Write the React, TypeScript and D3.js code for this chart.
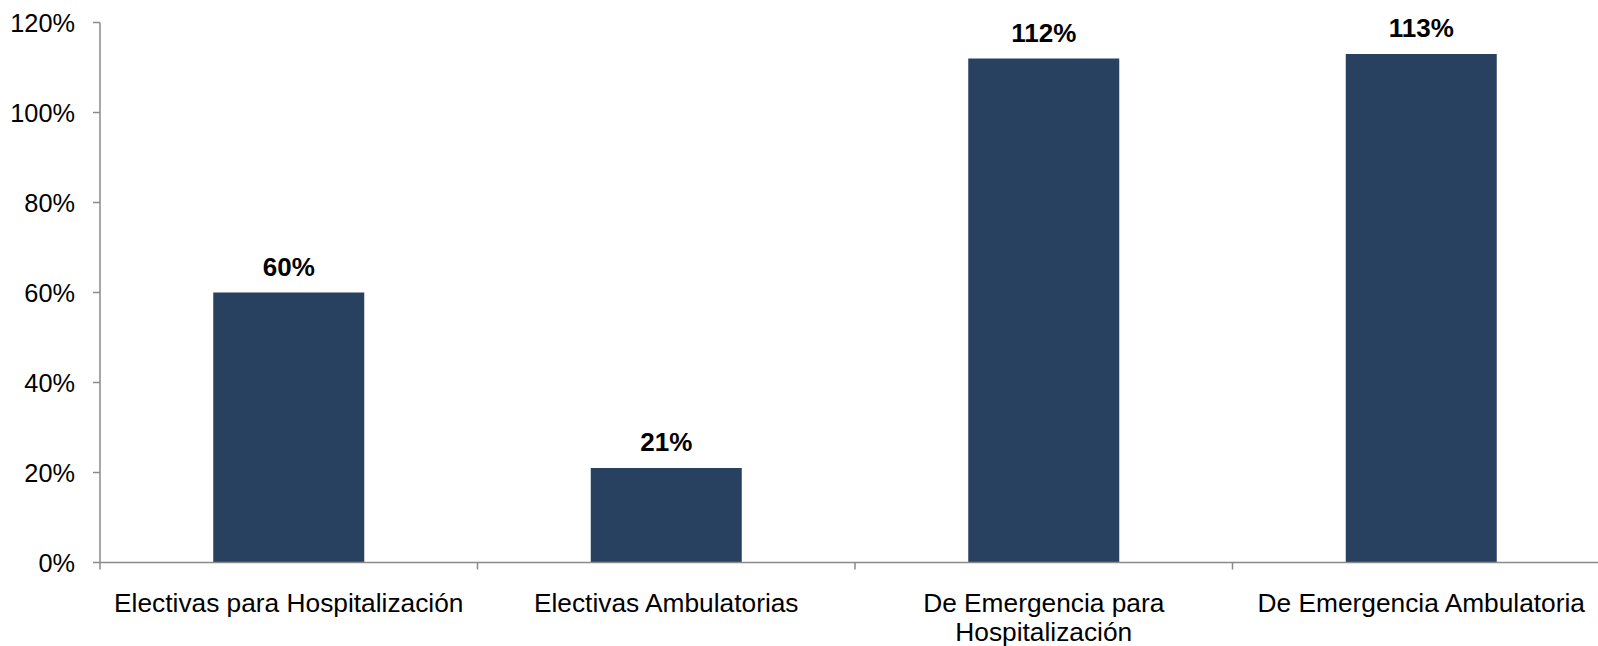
import React, { useEffect, useRef } from "react";
import * as d3 from "d3";

const categories: string[] = [
  "Electivas para Hospitalización",
  "Electivas Ambulatorias",
  "De Emergencia para Hospitalización",
  "De Emergencia Ambulatoria",
];
const values: number[] = [60, 21, 112, 113];
const yTicks: number[] = [0, 20, 40, 60, 80, 100, 120];

const W = 1598;
const H = 646;
const FONT = "'Liberation Sans', Arial, sans-serif";

export default function App() {
  const ref = useRef<SVGSVGElement>(null);

  useEffect(() => {
    const svg = d3.select(ref.current);
    svg.selectAll("*").remove();

    const left = 100;
    const step = 377.5;
    const x = d3
      .scaleBand<string>()
      .domain(categories)
      .range([left, left + step * categories.length])
      .paddingInner(0.6)
      .paddingOuter(0.3);
    const y = d3.scaleLinear().domain([0, 120]).range([562.5, 22.5]);

    const g = svg.append("g");

    // bars
    g.selectAll("rect.bar")
      .data(values)
      .enter()
      .append("rect")
      .attr("class", "bar")
      .attr("x", (_d, i) => x(categories[i]) as number)
      .attr("y", (d) => y(d))
      .attr("width", x.bandwidth())
      .attr("height", (d) => y(0) - y(d))
      .attr("fill", "#284161");

    // value labels
    g.selectAll("text.val")
      .data(values)
      .enter()
      .append("text")
      .attr("class", "val")
      .attr("x", (_d, i) => (x(categories[i]) as number) + x.bandwidth() / 2)
      .attr("y", (d) => y(d) - 17)
      .attr("text-anchor", "middle")
      .attr("font-family", FONT)
      .attr("font-weight", "bold")
      .attr("font-size", 26)
      .attr("fill", "#000")
      .text((d) => `${d}%`);

    const axisColor = "#8a8a8a";

    // y axis line
    g.append("line")
      .attr("x1", left)
      .attr("x2", left)
      .attr("y1", y(120))
      .attr("y2", y(0))
      .attr("stroke", axisColor)
      .attr("stroke-width", 1.5);

    // y ticks
    yTicks.forEach((t) => {
      g.append("line")
        .attr("x1", left - 7)
        .attr("x2", left)
        .attr("y1", y(t))
        .attr("y2", y(t))
        .attr("stroke", axisColor)
        .attr("stroke-width", 1.5);
      g.append("text")
        .attr("x", left - 25)
        .attr("y", y(t))
        .attr("dy", "0.36em")
        .attr("text-anchor", "end")
        .attr("font-family", FONT)
        .attr("font-size", 25.3)
        .attr("fill", "#000")
        .text(`${t}%`);
    });

    // x axis line
    g.append("line")
      .attr("x1", left)
      .attr("x2", left + step * categories.length)
      .attr("y1", y(0))
      .attr("y2", y(0))
      .attr("stroke", axisColor)
      .attr("stroke-width", 1.5);

    // x ticks at category boundaries
    for (let i = 0; i <= categories.length; i++) {
      const xx = left + step * i;
      g.append("line")
        .attr("x1", xx)
        .attr("x2", xx)
        .attr("y1", y(0))
        .attr("y2", y(0) + 7)
        .attr("stroke", axisColor)
        .attr("stroke-width", 1.5);
    }

    // category labels with wrapping
    const maxW = step - 10;
    categories.forEach((c) => {
      const cx = (x(c) as number) + x.bandwidth() / 2;
      const text = g
        .append("text")
        .attr("x", cx)
        .attr("y", 612)
        .attr("text-anchor", "middle")
        .attr("font-family", FONT)
        .attr("font-size", 26.3)
        .attr("fill", "#000");
      const words = c.split(" ");
      let line: string[] = [];
      let tspan = text.append("tspan").attr("x", cx).attr("dy", 0);
      words.forEach((w) => {
        line.push(w);
        tspan.text(line.join(" "));
        if ((tspan.node() as SVGTSpanElement).getComputedTextLength() > maxW && line.length > 1) {
          line.pop();
          tspan.text(line.join(" "));
          line = [w];
          tspan = text.append("tspan").attr("x", cx).attr("dy", 29).text(w);
        }
      });
    });
  }, []);

  return (
    <svg
      ref={ref}
      width={W}
      height={H}
      style={{ position: "absolute", left: 0, top: 0, background: "#fff" }}
    />
  );
}
